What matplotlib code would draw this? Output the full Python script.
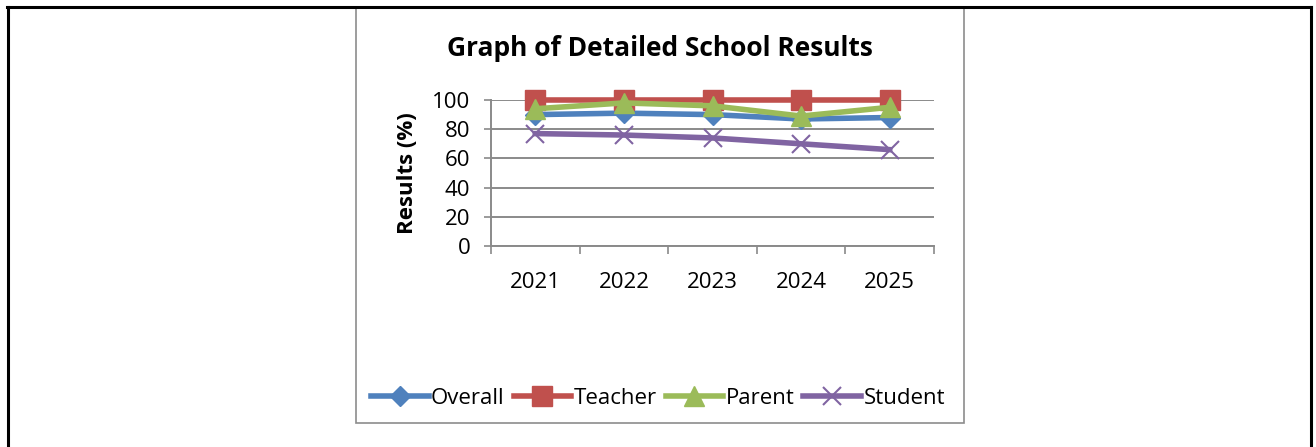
import matplotlib
matplotlib.use('Agg')
import matplotlib.pyplot as plt
from matplotlib.patches import Rectangle
from matplotlib.lines import Line2D

# Values.
years = ['2021', '2022', '2023', '2024', '2025']
overall = [90, 91, 90, 87, 88]
teacher = [100, 100, 100, 100, 100]
parent = [94, 98, 96, 89, 95]
student = [77, 76, 74, 70, 66]
y_ticks = [0, 20, 40, 60, 80, 100]

plt.rcParams['font.family'] = ['Open Sans', 'DejaVu Sans']

W, H = 1316, 447
fig = plt.figure(figsize=(W / 100, H / 100), dpi=100)

# Helpers: pixel position -> figure fraction.
def fx(px):
  return px / W

def fy(py):
  return 1 - py / H

# Outer black cell border (open at the bottom).
fig.add_artist(Line2D([fx(7), fx(1311)], [fy(6.5), fy(6.5)], color='black', lw=2.2))
fig.add_artist(Line2D([fx(7.5), fx(7.5)], [fy(6.5), 0], color='black', lw=2.2))
fig.add_artist(Line2D([fx(1310.5), fx(1310.5)], [fy(6.5), 0], color='black', lw=2.2))

# Grey chart frame.
fig.add_artist(Rectangle((fx(356), fy(423)), fx(964) - fx(356), fy(8) - fy(423),
                         transform=fig.transFigure, fill=False, edgecolor='#8c8c8c', lw=1.2))

ax = fig.add_axes([fx(491), fy(246), fx(934) - fx(491), fy(100) - fy(246)])
x = list(range(len(years)))
grid_c = '#8a8a8a'

ax.plot(x, overall, color='#4F81BD', lw=4, marker='D', ms=10.5, label='Overall', clip_on=False)
ax.plot(x, teacher, color='#C0504D', lw=4, marker='s', ms=14, label='Teacher', clip_on=False)
ax.plot(x, parent, color='#9BBB59', lw=4, marker='^', ms=14.5, label='Parent', clip_on=False)
ax.plot(x, student, color='#8064A2', lw=4, marker='x', ms=13, mew=1.5, label='Student', clip_on=False)

ax.set_xlim(-0.5, len(years) - 0.5)
ax.set_ylim(0, 100)
ax.set_yticks(y_ticks)
ax.set_xticks([i - 0.5 for i in range(len(years) + 1)])
ax.set_xticklabels([])
ax.set_xticks(x, minor=True)
ax.set_xticklabels(years, minor=True)
ax.tick_params(axis='x', which='major', length=6, width=1.2, color=grid_c)
ax.tick_params(axis='x', which='minor', length=0, pad=19, labelsize=16)
ax.tick_params(axis='y', length=5, width=1.2, color=grid_c, labelsize=16, pad=10)

for s in ['top', 'right']:
  ax.spines[s].set_visible(False)
for s in ['left', 'bottom']:
  ax.spines[s].set_color(grid_c)
  ax.spines[s].set_linewidth(1.4)
ax.yaxis.grid(True, color=grid_c, lw=1.4)
ax.set_axisbelow(True)

ax.set_ylabel('Results (%)', fontsize=16, fontweight='bold', va='center')
ax.yaxis.set_label_coords(-0.188, 0.5)
fig.text(fx(660), fy(49), 'Graph of Detailed School Results', fontsize=19,
         fontweight='bold', ha='center', va='center')

fig.legend(loc='center', bbox_to_anchor=(fx(658), fy(398)), ncol=4, frameon=False,
           fontsize=16, handlelength=2.6, handletextpad=0.1, columnspacing=0.4)

fig.savefig('out.png', dpi=100)
